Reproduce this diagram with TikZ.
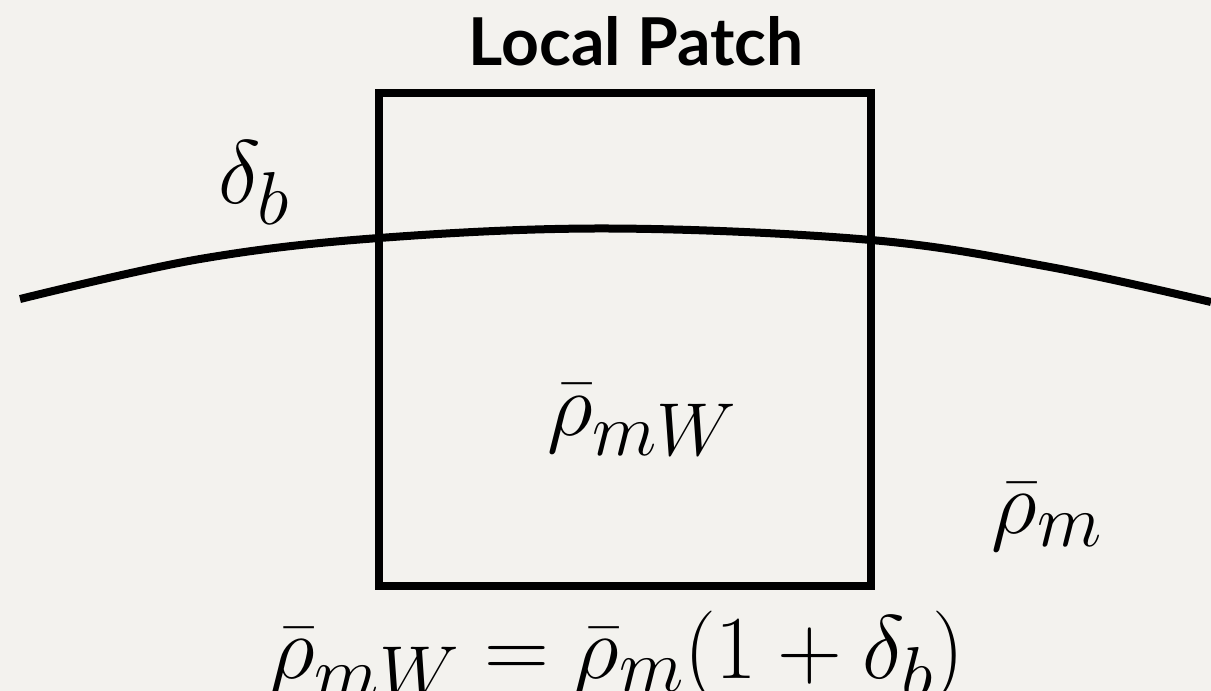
\RequirePackage{fix-cm}
\documentclass[tikz,border=0pt]{standalone}
\usepackage{fontspec}
\newfontfamily\titlefont{Lato}
\DeclareMathSizes{90}{90}{75}{60}
\definecolor{paper}{RGB}{243,242,238}
\begin{document}
\begin{tikzpicture}[x=1pt,y=-1pt,
  mathlbl/.style={inner sep=0pt,anchor=base,font=\fontsize{90}{100}\selectfont},
  titlelbl/.style={inner sep=0pt,anchor=base,font=\titlefont\bfseries\fontsize{66}{72}\selectfont},
  thick line/.style={line width=8pt}]
\fill[paper] (0,0) rectangle (1211,691);
\useasboundingbox (0,0) rectangle (1211,691);
\node[thick line,draw,minimum width=492pt,minimum height=492.5pt,inner sep=0pt] (patch) at (625,339.25) {};
\draw[thick line] plot[smooth,tension=0.6] coordinates {(20,299) (200,259) (379,238) (610,228.5) (871,240) (1050,267) (1211,302)};
\node[titlelbl] (title) at (636,65) {Local Patch};
\node[mathlbl] (delta) at (254,203) {$\delta_b$};
\node[mathlbl] (rhomw) at (642,435) {$\bar\rho_{mW}$};
\node[mathlbl] (rhom) at (1047,533) {$\bar\rho_{m}$};
\node[mathlbl] (eq) at (617,678) {$\bar\rho_{mW} = \bar\rho_m(1+\delta_b)$};
\end{tikzpicture}
\end{document}
